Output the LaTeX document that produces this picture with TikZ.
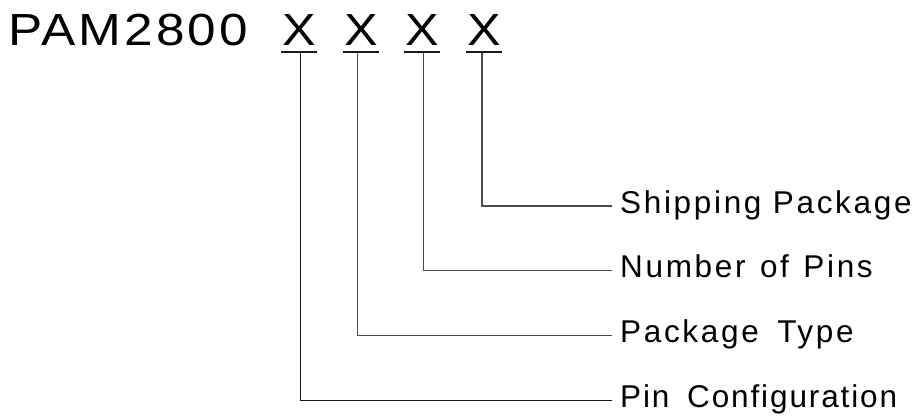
\documentclass[tikz,border=0pt]{standalone}
\usepackage{fontspec}
\setmainfont{Liberation Sans}
\newfontfamily\labfont[LetterSpace=8.5]{Liberation Sans}
\newfontfamily\labfontb[LetterSpace=6]{Liberation Sans}
\newfontfamily\titlefont[LetterSpace=6]{Liberation Sans}
\begin{document}
\begin{tikzpicture}[x=1pt,y=-1pt,
  titletxt/.style={inner sep=0pt, font=\titlefont\fontsize{45}{54}\selectfont},
  xmark/.style={inner sep=0pt, anchor=base, font=\fontsize{45}{54}\selectfont},
  labtxt/.style={anchor=west, inner xsep=8pt, inner ysep=0pt, text height=20pt, text depth=6pt,
    font=\labfont\fontsize{31.5}{36}\selectfont},
  uline/.style={line width=2pt, black!90},
  conn/.style={line width=1.3pt, black!70}]
\useasboundingbox (0,0) rectangle (914,416);
% title
\node[titletxt, anchor=base west] (title) at (8,45) {\scalebox{1.14}[1]{PAM2800}};
\node[xmark] (x1) at (299,45) {\scalebox{1.12}[1]{X}};
\node[xmark] (x2) at (361,45) {\scalebox{1.12}[1]{X}};
\node[xmark] (x3) at (422,45) {\scalebox{1.12}[1]{X}};
\node[xmark] (x4) at (484,45) {\scalebox{1.12}[1]{X}};
\foreach \n in {x1,x2,x3,x4}{
  \draw[uline] ([xshift=-18pt,yshift=-7pt]\n.base) -- ([xshift=18pt,yshift=-7pt]\n.base);
}
% labels
\node[labtxt] (l4) at (612,206) {Shipping Package};
\node[labtxt] (l3) at (612,270.7) {Number\hspace{3pt} of\hspace{3pt} Pins};
\node[labtxt] (l2) at (612,335.7) {Package\hspace{7pt} Type};
\node[labtxt, font=\labfontb\fontsize{31.5}{36}\selectfont] (l1) at (612,400.3) {Pin\hspace{7pt} Configuration};
% connector start points
\coordinate (u1) at (300.7,53);
\coordinate (u2) at (357.7,53);
\coordinate (u3) at (423.3,53);
\coordinate (u4) at (482,53);
\draw[conn, black!90] (u1) |- (l1.west);
\draw[conn] (u2) |- (l2.west);
\draw[conn] (u3) |- (l3.west);
\draw[conn] (u4) |- (l4.west);
\end{tikzpicture}
\end{document}
